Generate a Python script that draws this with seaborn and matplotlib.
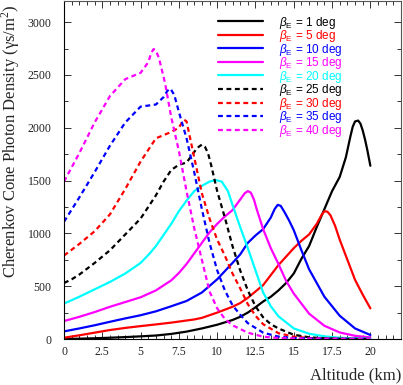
import matplotlib
matplotlib.use("Agg")
import matplotlib.pyplot as plt
import seaborn as sns
from matplotlib.ticker import MultipleLocator

# altitude (km) / density (photons per m^2), one pair per curve
alt_01 = [0, 1, 2, 3, 4, 5, 6, 7, 8, 9, 10, 11, 11.5, 12, 12.5, 13, 13.5, 14, 14.5, 15,
          15.5, 16, 16.5, 17, 17.5, 18, 18.4, 18.7, 18.85, 19, 19.2, 19.35, 19.5, 19.65,
          19.8, 20]
dens_01 = [0, 3, 7, 12, 18, 25, 33, 48, 70, 100, 135, 180, 210, 250, 300, 355, 400, 460,
           530, 620, 760, 880, 1060, 1230, 1400, 1535, 1720, 1920, 2010, 2060, 2068, 2040,
           1975, 1890, 1790, 1640]

alt_05 = [0, 1, 2, 3, 4, 5, 6, 7, 8, 8.5, 9, 10, 11, 11.5, 12, 13, 14, 15, 15.5, 16,
          16.5, 16.8, 17, 17.2, 17.4, 17.7, 18, 18.5, 19, 19.5, 20]
dens_05 = [12, 35, 60, 85, 105, 122, 138, 155, 175, 185, 200, 250, 305, 340, 390, 510, 700,
           860, 930, 990, 1090, 1170, 1210, 1205, 1170, 1070, 940, 750, 560, 420, 290]

alt_10 = [0, 1, 2, 3, 4, 5, 6, 7, 8, 9, 10, 11, 11.5, 12, 12.5, 13, 13.5, 13.75, 13.95,
          14.15, 14.4, 14.7, 15, 15.5, 16, 17, 18, 19, 20]
dens_10 = [72, 100, 130, 163, 195, 225, 262, 310, 360, 440, 565, 720, 800, 910, 980, 1040,
           1150, 1230, 1270, 1260, 1200, 1120, 1030, 840, 660, 400, 220, 100, 38]

alt_15 = [0, 1, 2, 3, 4, 5, 6, 7, 7.5, 8, 8.5, 9, 9.5, 10, 10.5, 11, 11.5, 11.8, 12,
          12.2, 12.4, 12.6, 13, 13.5, 14, 14.5, 15, 16, 17, 18, 19, 20]
dens_15 = [170, 210, 255, 305, 350, 395, 460, 555, 625, 710, 810, 910, 1010, 1090, 1160,
           1220, 1320, 1380, 1400, 1385, 1320, 1220, 1040, 860, 710, 550, 430, 240, 125, 62,
           30, 15]

alt_20 = [0, 1, 2, 3, 4, 5, 5.6, 6, 6.5, 7, 7.5, 8, 8.5, 9, 9.5, 9.9, 10.3, 10.7, 11,
          11.5, 12, 12.5, 13, 13.5, 14, 15, 16, 17, 18, 19, 20]
dens_20 = [335, 400, 470, 540, 620, 720, 810, 880, 985, 1090, 1210, 1310, 1400, 1450, 1490,
           1505, 1490, 1400, 1270, 1060, 860, 650, 440, 310, 215, 100, 50, 25, 12, 6, 3]

alt_25 = [0, 0.5, 1, 2, 3, 4, 5, 6, 6.5, 7, 7.5, 8, 8.3, 8.6, 8.8, 9, 9.2, 9.4, 9.6, 10,
          10.5, 11, 11.5, 12, 12.5, 13, 13.5, 14, 15, 16, 17, 18, 20]
dens_25 = [530, 565, 610, 720, 840, 990, 1140, 1360, 1490, 1600, 1650, 1670, 1730, 1790,
           1820, 1840, 1820, 1760, 1650, 1400, 1150, 880, 650, 460, 310, 205, 140, 100, 40,
           16, 7, 3, 1]

alt_30 = [0, 1, 2, 3, 4, 5, 6, 7, 7.5, 7.7, 7.85, 8, 8.5, 9, 9.5, 10, 10.5, 11, 11.5,
          12, 12.5, 13, 14, 15, 16, 18, 20]
dens_30 = [790, 900, 1020, 1180, 1420, 1680, 1900, 1960, 2000, 2050, 2075, 2060, 1720,
           1380, 1140, 940, 790, 620, 480, 330, 220, 140, 55, 22, 9, 2, 1]

alt_35 = [0, 1, 2, 3, 4, 5, 6, 6.5, 6.75, 6.95, 7.2, 7.5, 8, 8.5, 9, 9.5, 10, 10.5, 11,
          11.5, 12, 13, 14, 15, 17, 20]
dens_35 = [1110, 1340, 1580, 1830, 2050, 2200, 2220, 2290, 2350, 2370, 2310, 2150, 1900,
           1580, 1230, 910, 650, 460, 320, 230, 150, 60, 22, 9, 2, 1]

alt_40 = [0, 1, 2, 3, 4, 5, 5.5, 5.7, 5.85, 6.0, 6.2, 6.6, 7, 7.5, 8, 8.5, 9, 9.5, 10,
          10.5, 11, 12, 13, 14, 16, 20]
dens_40 = [1490, 1760, 2050, 2300, 2460, 2520, 2620, 2710, 2745, 2730, 2660, 2420, 2100,
           1780, 1400, 1050, 750, 450, 290, 190, 130, 60, 22, 9, 3, 1]

angles = [1, 5, 10, 15, 20, 25, 30, 35, 40]
colors = ["black", "red", "blue", "magenta", "cyan", "black", "red", "blue", "magenta"]
altitudes = [alt_01, alt_05, alt_10, alt_15, alt_20, alt_25, alt_30, alt_35, alt_40]
densities = [dens_01, dens_05, dens_10, dens_15, dens_20, dens_25, dens_30, dens_35, dens_40]

sns.set_style("ticks")
plt.rcParams["font.family"] = ["Liberation Serif", "DejaVu Serif"]
plt.rcParams["mathtext.fontset"] = "custom"
plt.rcParams["mathtext.it"] = "Liberation Sans:italic"
plt.rcParams["mathtext.rm"] = "Liberation Sans"

fig = plt.figure(figsize=(4.03, 3.85), dpi=100)
ax = fig.add_axes([64 / 403, 46 / 385, 337 / 403, 338 / 385])

for i, angle in enumerate(angles):
    style = "-" if angle <= 20 else (0, (2.2, 1.6))
    sns.lineplot(x=altitudes[i], y=densities[i], color=colors[i], linestyle=style,
                 linewidth=1.6, ax=ax, label=rf"$\beta_{{\mathrm{{E}}}}$ = {angle} deg")

ax.set_xlim(0, 22)
ax.set_ylim(0, 3200)
ax.xaxis.set_minor_locator(MultipleLocator(0.5))
ax.yaxis.set_major_locator(MultipleLocator(500))
ax.yaxis.set_minor_locator(MultipleLocator(250))
ax.set_xticks([0, 2.5, 5, 7.5, 10, 12.5, 15, 17.5, 20])
ax.set_xticklabels(["0", "2.5", "5", "7.5", "10", "12.5", "15", "17.5", "20"])
ax.tick_params(which="both", direction="in", top=True, right=True, labelsize=8.5,
               colors="#333333", labelcolor="#222222", width=0.7)
ax.tick_params(which="major", length=5)
ax.tick_params(which="minor", length=3)
ax.tick_params(axis="y", pad=9)
ax.tick_params(axis="x", pad=5)
for side in ax.spines.values():
    side.set_color("#555555")
    side.set_linewidth(0.8)
ax.spines["left"].set_color("black")
ax.spines["bottom"].set_color("black")

ax.set_xlabel("Altitude (km)", loc="right", fontsize=12, labelpad=7)
ax.set_ylabel("Cherenkov Cone Photon Density (γs/m$^{\\mathregular{2}}$)", loc="top",
              fontsize=12, labelpad=6)
ax.yaxis.set_label_coords(-0.125, 0.99)

# rows are as tight as in the reference, so the mathtext boxes touch a little
leg = ax.legend(loc="upper left", bbox_to_anchor=((218 - 64) / 337, 0.96),
                frameon=False, handlelength=3.8, handletextpad=1.36,
                labelspacing=-0.21, borderpad=0, borderaxespad=0, labelcolor="linecolor",
                prop={"family": ["Liberation Sans", "DejaVu Sans"], "size": 8.5})

fig.savefig("out.png", dpi=100)
